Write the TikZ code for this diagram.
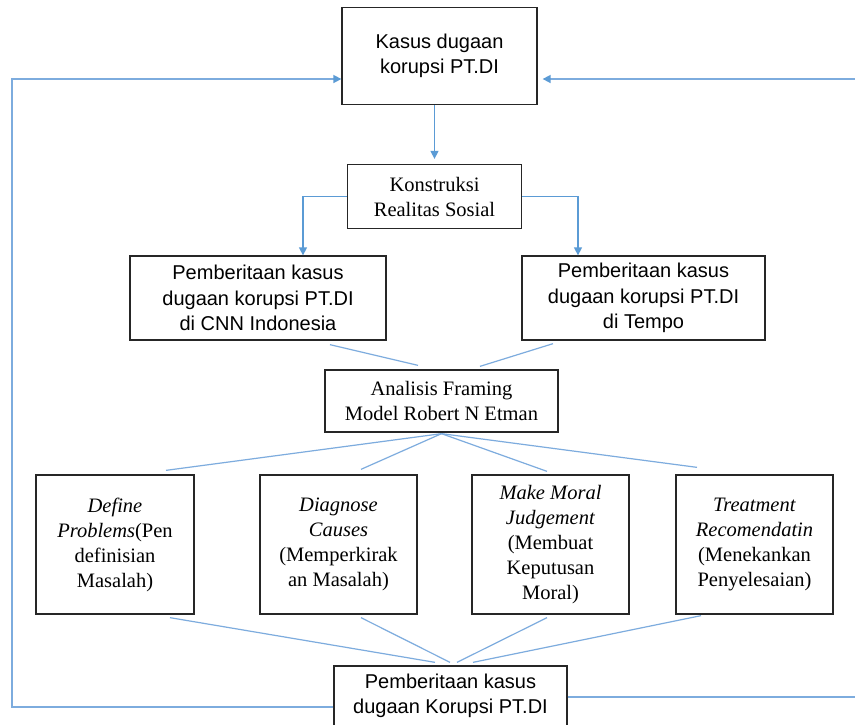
\documentclass[tikz,border=0pt]{standalone}
\usepackage{fontspec}
\setmainfont{Liberation Serif}
\newfontfamily\arialfont{Liberation Sans}
\usetikzlibrary{arrows.meta,calc}
\definecolor{arrblue}{RGB}{91,155,213}
\definecolor{lineblue}{RGB}{125,172,222}
\tikzset{
  box/.style={draw=black!85, line width=1.3pt, inner sep=0pt, align=center, fill=white},
  sansbox/.style={box, font=\arialfont\fontsize{20}{25.5}\selectfont},
  serifbox/.style={box, font=\fontsize{20.5}{25}\selectfont},
  arr/.style={draw=arrblue, line width=1.4pt, -{Triangle[length=8pt,width=8pt]}},
  link/.style={draw=lineblue, line width=1.2pt},
  fb/.style={draw=lineblue, line width=1.6pt},
  fbarr/.style={fb, -{Triangle[length=8pt,width=8pt,color=arrblue]}}
}
\begin{document}
\begin{tikzpicture}[x=1pt,y=-1pt]
\clip (0,0) rectangle (855,724);
\fill[white] (0,0) rectangle (855,724);

\node[sansbox, minimum width=195pt, minimum height=97pt] (top) at (439.5,56) {Kasus dugaan\\korupsi PT.DI};
\node[serifbox, minimum width=174pt, minimum height=64pt] (kon) at (434.5,196.5) {Konstruksi\\Realitas Sosial};
\node[sansbox, minimum width=256pt, minimum height=84pt] (cnn) at (258,298) {Pemberitaan kasus\\dugaan korupsi PT.DI\\di CNN Indonesia};
\node[sansbox, minimum width=243pt, minimum height=84pt] (tempo) at (643.5,298) {Pemberitaan kasus\\dugaan korupsi PT.DI\\di Tempo};
\node[serifbox, minimum width=233pt, minimum height=62pt] (ana) at (441.5,401) {Analisis Framing\\Model Robert N Etman};

\node[serifbox, minimum width=158pt, minimum height=139pt] (b1) at (115,544.5) {\textit{Define}\\\textit{Problems}(Pen\\definisian\\Masalah)};
\node[serifbox, minimum width=157pt, minimum height=139pt] (b2) at (338.5,544.5) {\textit{Diagnose}\\\textit{Causes}\\(Memperkirak\\an Masalah)};
\node[serifbox, minimum width=157pt, minimum height=139pt] (b3) at (550.5,544.5) {\textit{Make Moral}\\\textit{Judgement}\\(Membuat\\Keputusan\\Moral)};
\node[serifbox, minimum width=157pt, minimum height=139pt] (b4) at (754.5,544.5) {\textit{Treatment}\\\textit{Recomendatin}\\(Menekankan\\Penyelesaian)};

\node[sansbox, minimum width=233pt, minimum height=60pt] (bot) at (450.5,696) {Pemberitaan kasus\\dugaan Korupsi PT.DI};

\coordinate (L) at (12,79);
\coordinate (R) at (860,79);
\coordinate (Rb) at (860,697);

% main arrows
\draw[arr, shorten >=5pt] (top.south -| kon.north) -- (kon.north);
\draw[arr] (kon.west) -| ([xshift=45pt]cnn.north);
\draw[arr] (kon.east) -| ([xshift=-65.5pt]tempo.north);

% links to Analisis
\draw[link] ($(cnn.south)+(72,4)$) -- ($(ana.north)+(-23.5,-4)$);
\draw[link] ($(tempo.south)+(-90.5,3)$) -- ($(ana.north)+(38.5,-3)$);

% Analisis to four boxes
\draw[link] ($(ana.south)+(0,1)$) -- ($(b1.north)+(51,-4)$);
\draw[link] ($(ana.south)+(0,1)$) -- ($(b2.north)+(22.5,-5)$);
\draw[link] ($(ana.south)+(0,1)$) -- ($(b3.north)+(-3.5,-3)$);
\draw[link] ($(ana.south)+(0,1)$) -- ($(b4.north)+(-57.5,-7)$);

% four boxes to bottom
\draw[link] ($(b1.south)+(55,3)$) -- ($(bot.north)+(-15.5,-3)$);
\draw[link] ($(b2.south)+(22.5,3)$) -- ($(bot.north)+(-0.5,-3)$);
\draw[link] ($(b3.south)+(-3.5,3)$) -- ($(bot.north)+(6.5,-3)$);
\draw[link] ($(b4.south)+(-53.5,1)$) -- ($(bot.north)+(22.5,-3)$);

% feedback loops
\draw[fbarr] ($(bot.west)+(0,11)$) -| (L) -- ($(top.west)+(0,23)$);
\draw[fbarr] (R) -- ($(top.east)+(5,23)$);
\draw[fb] ($(bot.east)+(0,1)$) -- (Rb);
\end{tikzpicture}
\end{document}
